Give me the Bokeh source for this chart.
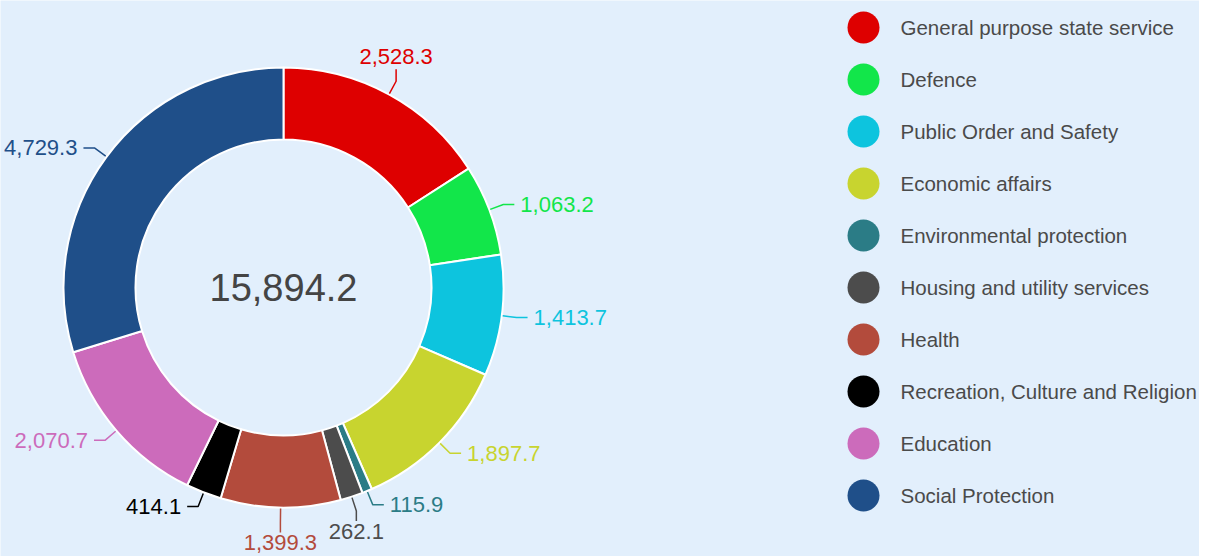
import numpy as np
from bokeh.plotting import figure
from bokeh.models import Range1d, ColumnDataSource
from bokeh.core.properties import value
from bokeh.embed import file_html
from bokeh.resources import INLINE

# ---- data ----
categories = [
    "General purpose state service",
    "Defence",
    "Public Order and Safety",
    "Economic affairs",
    "Environmental protection",
    "Housing and utility services",
    "Health",
    "Recreation, Culture and Religion",
    "Education",
    "Social Protection",
]
values = [2528.3, 1063.2, 1413.7, 1897.7, 115.9, 262.1, 1399.3, 414.1, 2070.7, 4729.3]
colors = ["#DE0000", "#12E64A", "#0DC4DE", "#C8D42F", "#2B7C86",
          "#4C4C4C", "#B34B3C", "#000000", "#CC6BBB", "#1F4F89"]
total_text = "15,894.2"
# connector direction for each label (style)
label_sides = ["up", "right", "right", "right", "right", "down", "down", "left", "left", "left"]

# ---- layout ----
W, H = 1199, 556
FONT = value("Liberation Sans")
p = figure(width=W, height=H, x_range=Range1d(0, W), y_range=Range1d(-H, 0),
           output_backend="svg", toolbar_location=None, min_border=0)
p.axis.visible = False
p.grid.visible = False
p.outline_line_color = None
p.background_fill_color = "#E2EFFC"
p.border_fill_color = "#E2EFFC"

cx, cy = 283, -287
r_out, r_in = 220, 148

vals = np.array(values, dtype=float)
tot = vals.sum()
cum = np.cumsum(vals)
th_s = (cum - vals) / tot * 2 * np.pi   # clockwise from top
th_e = cum / tot * 2 * np.pi
th_m = (th_s + th_e) / 2

wsrc = ColumnDataSource(dict(start=np.pi / 2 - th_s, end=np.pi / 2 - th_e, color=colors))
p.annular_wedge(x=cx, y=cy, inner_radius=r_in, outer_radius=r_out,
                start_angle="start", end_angle="end", direction="clock",
                fill_color="color", line_color="white", line_width=2, source=wsrc)

# center total
p.text(x=[cx], y=[cy], text=[total_text], text_align="center", text_baseline="middle",
       text_font=FONT, text_font_size="38px", text_color="#444444")

# labels with connectors
xs, ys, lx, ly, la, lb, lt = [], [], [], [], [], [], []
for th, side, v in zip(th_m, label_sides, values):
    s, c = np.sin(th), np.cos(th)
    x0, y0 = cx + (r_out + 1) * s, cy + (r_out + 1) * c
    x1, y1 = cx + (r_out + 15) * s, cy + (r_out + 15) * c
    if side == "right":
        x2, y2 = x1 + 11, y1
        tx, ty, al, bl = x2 + 6, y2, "left", "middle"
    elif side == "left":
        x2, y2 = x1 - 11, y1
        tx, ty, al, bl = x2 - 6, y2, "right", "middle"
    elif side == "up":
        x2, y2 = x1, y1 + 12
        tx, ty, al, bl = x1, y2 + 5, "center", "bottom"
    else:
        x2, y2 = x1, y1 - 10
        tx, ty, al, bl = x1, y2 - 3, "center", "top"
    xs.append([x0, x1, x2]); ys.append([y0, y1, y2])
    lx.append(tx); ly.append(ty); la.append(al); lb.append(bl)
    lt.append(f"{v:,.1f}")

p.multi_line(xs=xs, ys=ys, line_color=colors, line_width=1.5)
lsrc = ColumnDataSource(dict(x=lx, y=ly, text=lt, align=la, base=lb, color=colors))
p.text(x="x", y="y", text="text", text_align="align", text_baseline="base",
       text_color="color", text_font=FONT, text_font_size="22px", source=lsrc)

# legend
leg_x, leg_y0, leg_dy = 863, -27, -52
gy = [leg_y0 + i * leg_dy for i in range(len(categories))]
gsrc = ColumnDataSource(dict(x=[leg_x] * len(categories), tx=[leg_x + 37] * len(categories),
                             y=gy, name=categories, color=colors))
p.scatter(x="x", y="y", size=32, fill_color="color", line_color=None, source=gsrc)
p.text(x="tx", y="y", text="name", text_align="left", text_baseline="middle",
       text_font=FONT, text_font_size="20.5px", text_color="#4A4A4A", source=gsrc)

open("out.html", "w").write(file_html(p, INLINE))
